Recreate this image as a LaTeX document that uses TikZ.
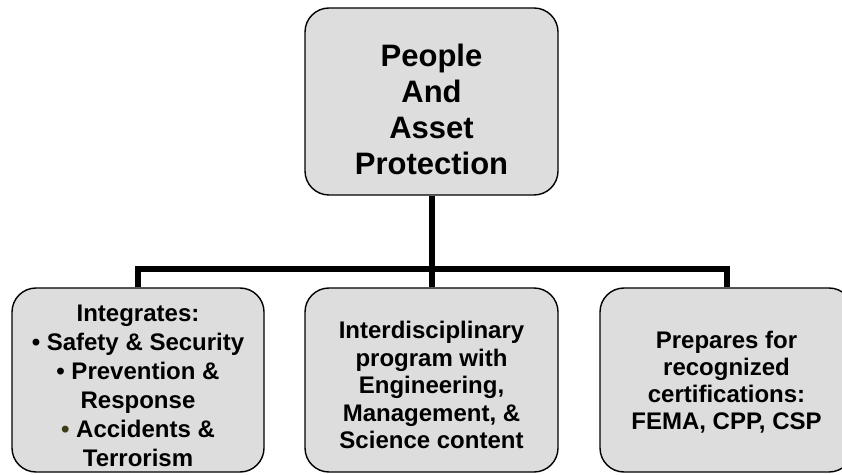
\documentclass[tikz,border=0pt]{standalone}
\usepackage{fontspec}
\setmainfont{Liberation Sans}
\definecolor{boxgray}{RGB}{221,221,221}
\definecolor{bulletolive}{RGB}{60,60,20}
\begin{document}
\begin{tikzpicture}[x=1pt,y=1pt,
  box/.style={draw=black, line width=1.4pt, fill=boxgray, rounded corners=24pt,
              minimum width=253pt, inner sep=0pt},
  conn/.style={line width=6pt},
  txt/.style={align=center, inner sep=0pt}]
\useasboundingbox (0,0) rectangle (842,474);
\coordinate (bar) at (431.5,205);
\node[box, minimum height=187pt] (top) at (431.5,372.5) {};
\node[box, minimum width=252pt, minimum height=184pt] (L) at (138,94) {};
\node[box, minimum height=184pt] (M) at (431.5,94) {};
\node[box, minimum height=184pt] (R) at (726.5,94) {};
\draw[conn] (top.south) -- (M.north);
\draw[conn] (L.north) |- (bar) -| (R.north);
\node[txt, font=\fontsize{31}{36}\selectfont\bfseries] (topt) at ([yshift=-8pt]top.center)
  {People\\And\\Asset\\Protection};
\node[txt, font=\fontsize{24}{29}\selectfont\bfseries] (Lt) at ([yshift=-5.5pt]L.center)
  {Integrates:\\\textbullet{} Safety \& Security\\\textbullet{} Prevention \&\\Response\\{\color{bulletolive}\textbullet}{} Accidents \&\\Terrorism};
\node[txt, font=\fontsize{24}{27.5}\selectfont\bfseries] (Mt) at ([yshift=-5pt]M.center)
  {Interdisciplinary\\program with\\Engineering,\\Management, \&\\Science content};
\node[txt, font=\fontsize{24}{27}\selectfont\bfseries] (Rt) at ([yshift=-2.5pt]R.center)
  {Prepares for\\recognized\\certifications:\\FEMA, CPP, CSP};
\end{tikzpicture}
\end{document}
